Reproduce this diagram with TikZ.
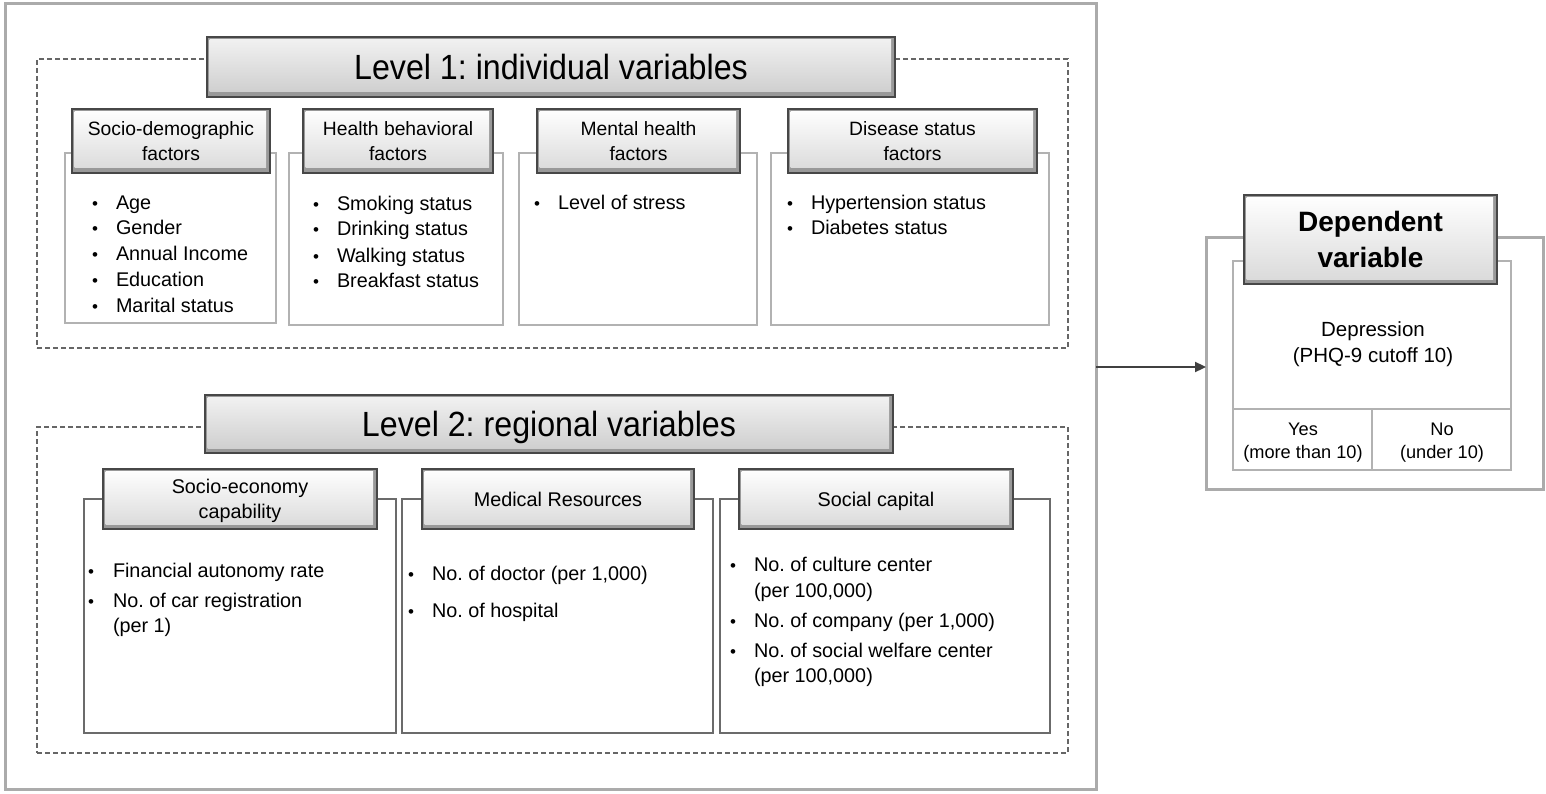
\documentclass[tikz,border=0pt]{standalone}
\usepackage{fontspec}
\setmainfont{Liberation Sans}
\newfontfamily\hdrfont[FakeStretch=0.92]{Liberation Sans}
\usetikzlibrary{arrows.meta}
\frenchspacing

\tikzset{
  outerbox/.style={draw=black!33, line width=3pt, inner sep=0pt, outer sep=0pt},
  dashbox/.style={draw=black!60, line width=1.2pt, dash pattern=on 5pt off 3pt, inner sep=0pt, outer sep=0pt},
  subboxA/.style={draw=black!30, line width=1.3pt, fill=white, inner sep=0pt, outer sep=0pt},
  subboxB/.style={draw=black!58, line width=1.3pt, fill=white, inner sep=0pt, outer sep=0pt},
  bevel/.style 2 args={draw=black!72, line width=1.4pt, fill=black!40, align=center,
    inner sep=0pt, outer sep=0pt,
    path picture={\shade[top color=#1, bottom color=#2]
      ([shift={(2.5pt,-2.5pt)}]path picture bounding box.north west) rectangle
      ([shift={(-4pt,5pt)}]path picture bounding box.south east);}},
  lvlhdr/.style={bevel={black!5}{black!20}, text depth=0pt, font=\hdrfont\fontsize{35}{40}\selectfont},
  subhdrA/.style={bevel={white}{black!15}, text depth=0pt, font=\fontsize{19.3}{24.5}\selectfont},
  subhdrB/.style={bevel={white}{black!15}, text depth=0pt, font=\fontsize{19.8}{25}\selectfont},
  dephdr/.style={bevel={white}{black!15}, text depth=0pt, font=\bfseries\fontsize{28}{36}\selectfont},
  txt/.style={inner sep=0pt, outer sep=0pt, anchor=base west, font=\fontsize{19.8}{24}\selectfont},
  ctxt/.style={inner sep=0pt, outer sep=0pt, anchor=base, font=\fontsize{#1}{24}\selectfont},
  bul/.style={inner sep=0pt, outer sep=0pt, anchor=base, font=\fontsize{17}{18}\selectfont},
  arrowline/.style={draw=black!75, line width=2.2pt, -{Triangle[length=11pt,width=10pt]}}
}

% name, style, x1, y1, x2, y2, text
\newcommand\rbox[7]{\node[#2, anchor=north west, minimum width={(#5)-(#3)},
  minimum height={(#6)-(#4)}] (#1) at (#3,#4) {#7};}
% name, bullet x, text x, baseline y, text
\newcommand\bitem[5]{\node[bul] (#1b) at (#2,#4) {•};
  \node[txt] (#1) at (#3,#4) {#5};}

\begin{document}
\begin{tikzpicture}[x=1pt,y=-1pt]
\useasboundingbox (0,0) rectangle (1546,794);
\fill[white] (0,0) rectangle (1546,794);

% outer frame
\rbox{outer}{outerbox}{5}{4}{1096}{789}{}

% level 1
\rbox{dash1}{dashbox}{37}{59}{1068}{348}{}
\rbox{boxA}{subboxA}{65}{153}{276}{323}{}
\rbox{boxB}{subboxA}{289}{153}{503}{325}{}
\rbox{boxC}{subboxA}{519}{153}{757}{325}{}
\rbox{boxD}{subboxA}{771}{153}{1049}{325}{}
\rbox{hdrA}{subhdrA}{72}{109}{270}{173}{Socio-demographic\\factors}
\rbox{hdrB}{subhdrA}{303}{109}{493}{173}{Health behavioral\\factors}
\rbox{hdrC}{subhdrA}{537}{109}{740}{173}{Mental health\\factors}
\rbox{hdrD}{subhdrA}{788}{109}{1037}{173}{Disease status\\factors}
\rbox{lvl1}{lvlhdr}{207}{37}{895}{97}{Level 1: individual variables}

\bitem{a1}{95}{116}{210}{Age}
\bitem{a2}{95}{116}{235}{Gender}
\bitem{a3}{95}{116}{261}{Annual Income}
\bitem{a4}{95}{116}{286}{Education}
\bitem{a5}{95}{116}{312}{Marital status}

\bitem{b1}{316}{337}{211}{Smoking status}
\bitem{b2}{316}{337}{236}{Drinking status}
\bitem{b3}{316}{337}{262}{Walking status}
\bitem{b4}{316}{337}{287}{Breakfast status}

\bitem{c1}{537}{558}{210}{Level of stress}

\bitem{d1}{790}{811}{210}{Hypertension status}
\bitem{d2}{790}{811}{235}{Diabetes status}

% level 2
\rbox{dash2}{dashbox}{37}{427}{1068}{753}{}
\rbox{boxE}{subboxB}{84}{499}{396}{733}{}
\rbox{boxF}{subboxB}{402}{499}{713}{733}{}
\rbox{boxG}{subboxB}{720}{499}{1050}{733}{}
\rbox{hdrE}{subhdrB}{103}{469}{377}{529}{Socio-economy\\capability}
\rbox{hdrF}{subhdrB}{422}{469}{694}{529}{Medical Resources}
\rbox{hdrG}{subhdrB}{739}{469}{1013}{529}{Social capital}
\rbox{lvl2}{lvlhdr}{205}{395}{893}{453}{Level 2: regional variables}

\bitem{e1}{91}{113}{577}{Financial autonomy rate}
\bitem{e2}{91}{113}{607}{No. of car registration}
\node[txt] (e3) at (113,632) {(per 1)};

\bitem{f1}{411}{432}{580}{No. of doctor (per 1,000)}
\bitem{f2}{411}{432}{617}{No. of hospital}

\bitem{g1}{733}{754}{571}{No. of culture center}
\node[txt] (g2) at (754,597) {(per 100,000)};
\bitem{g3}{733}{754}{627}{No. of company (per 1,000)}
\bitem{g4}{733}{754}{657}{No. of social welfare center}
\node[txt] (g5) at (754,682) {(per 100,000)};

% dependent variable
\rbox{depouter}{outerbox}{1206}{238}{1543}{489}{}
\rbox{depinner}{subboxA}{1233}{261}{1511}{470}{}
\coordinate (divy) at (0,409);
\draw[draw=black!30, line width=1.3pt] (depinner.west |- divy) -- (depinner.east |- divy);
\draw[draw=black!30, line width=1.3pt] (depinner.south |- divy) -- (depinner.south);
\rbox{dephdr}{dephdr}{1244}{195}{1497}{284}{Dependent\\variable}
\node[ctxt=20.5] (dep1) at (1373,336) {Depression};
\node[ctxt=20.5] (dep2) at (1373,362) {(PHQ-9 cutoff 10)};
\node[ctxt=18.2] (yes1) at (1303,435) {Yes};
\node[ctxt=18.2] (yes2) at (1303,458) {(more than 10)};
\node[ctxt=18.2] (no1) at (1442,435) {No};
\node[ctxt=18.2] (no2) at (1442,458) {(under 10)};

% arrow
\coordinate (arrowy) at (0,367);
\draw[arrowline] (outer.east |- arrowy) -- (depouter.west |- arrowy);
\end{tikzpicture}
\end{document}
